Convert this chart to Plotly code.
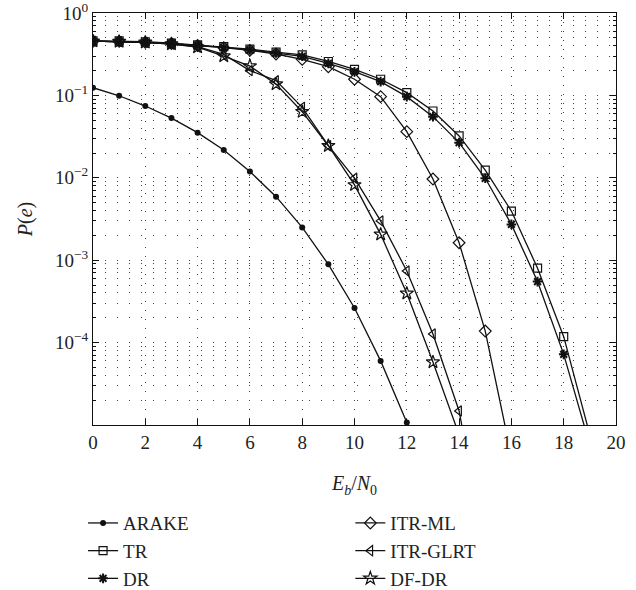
import plotly.graph_objects as go

x_arake = list(range(0, 13))
p_arake = [0.124, 0.099, 0.0743, 0.053, 0.0353, 0.0218, 0.0119, 0.0059, 0.0025, 0.00089, 0.000263, 6.0e-5, 1.07e-5]

x_tr = list(range(0, 20))
p_tr = [0.46, 0.458, 0.448, 0.43, 0.41, 0.39, 0.365, 0.335, 0.31, 0.258, 0.207, 0.157, 0.108, 0.0647, 0.0322, 0.0124, 0.00395, 0.0008, 0.000118, 7.6e-6]

x_dr = list(range(0, 20))
p_dr = [0.455, 0.452, 0.44, 0.425, 0.405, 0.383, 0.357, 0.327, 0.298, 0.245, 0.194, 0.147, 0.0966, 0.0552, 0.0267, 0.00986, 0.00272, 0.00055, 7.2e-5, 5.7e-6]

x_ml = list(range(0, 17))
p_ml = [0.455, 0.452, 0.44, 0.425, 0.403, 0.38, 0.352, 0.318, 0.274, 0.223, 0.157, 0.0966, 0.0363, 0.00967, 0.00163, 0.000138, 4.2e-6]

x_glrt = list(range(0, 16))
p_glrt = [0.455, 0.45, 0.44, 0.42, 0.39, 0.315, 0.2, 0.151, 0.0717, 0.0245, 0.0099, 0.003, 0.00074, 0.000127, 1.48e-5, 3e-7]

x_dfdr = list(range(0, 15))
p_dfdr = [0.455, 0.45, 0.44, 0.42, 0.385, 0.3, 0.227, 0.137, 0.0634, 0.0245, 0.0082, 0.00206, 0.000396, 5.8e-5, 7.6e-6]

x_ticks = list(range(0, 21, 2))
y_tickvals = [1e-4, 1e-3, 1e-2, 1e-1, 1]
y_ticktext = ["10<sup>−4</sup>", "10<sup>−3</sup>", "10<sup>−2</sup>", "10<sup>−1</sup>", "10<sup>0</sup>"]
y_minor = [m * 10 ** e for e in range(-5, 0) for m in range(2, 10)]

FONT = "Liberation Serif"
INK = "#111111"
GRID = "#444444"

series = [
    ("ARAKE", x_arake, p_arake, dict(symbol="circle", size=6, color=INK), "legend"),
    ("TR", x_tr, p_tr, dict(symbol="square-open", size=8, color=INK, line=dict(width=1.2, color=INK)), "legend"),
    ("DR", x_dr, p_dr, dict(symbol="asterisk-open", size=8, color=INK, line=dict(width=2, color=INK)), "legend"),
    ("ITR-ML", x_ml, p_ml, dict(symbol="diamond-open", size=9, color=INK, line=dict(width=1.2, color=INK)), "legend2"),
    ("ITR-GLRT", x_glrt, p_glrt, dict(symbol="triangle-left-open", size=9, color=INK, line=dict(width=1.2, color=INK)), "legend2"),
    ("DF-DR", x_dfdr, p_dfdr, dict(symbol="star-open", size=10, color=INK, line=dict(width=1.2, color=INK)), "legend2"),
]

fig = go.Figure()
for name, xs, ys, mk, lg in series:
    fig.add_trace(go.Scatter(x=xs, y=ys, name=name, mode="lines+markers",
                             line=dict(color=INK, width=1.3), marker=mk, legend=lg,
                             cliponaxis=True))

axis_common = dict(showline=True, linecolor=INK, linewidth=1.3, mirror="ticks",
                   ticks="inside", tickcolor=INK, zeroline=False, automargin=False,
                   ticklabeloverflow="allow",
                   tickfont=dict(family=FONT, size=19, color="#222"))

fig.update_xaxes(range=[0, 20], tickvals=x_ticks, ticklen=6,
                 showgrid=True, gridcolor=GRID, griddash="1px,8px", gridwidth=1,
                 title=dict(text="<i>E</i><sub><i>b</i></sub>/<i>N</i><sub>0</sub>",
                            font=dict(family=FONT, size=20, color="#222"), standoff=24),
                 **axis_common)
fig.update_yaxes(type="log", range=[-5, 0], tickvals=y_tickvals, ticktext=y_ticktext, ticklen=6,
                 showgrid=True, gridcolor=GRID, griddash="1px,11px", gridwidth=1,
                 minor=dict(tickvals=y_minor, ticks="inside", ticklen=3, tickcolor=INK,
                            showgrid=True, gridcolor=GRID, griddash="1px,11px", gridwidth=1),
                 title=dict(text="<i>P</i>(<i>e</i>)", font=dict(family=FONT, size=20, color="#222"), standoff=16),
                 **axis_common)

legend_common = dict(font=dict(family=FONT, size=19, color="#222"), bgcolor="rgba(0,0,0,0)",
                     borderwidth=0, itemwidth=30, tracegroupgap=0,
                     xanchor="left", yanchor="top", orientation="v")
fig.update_layout(
    width=636, height=590,
    margin=dict(l=93, r=20, t=13, b=165, autoexpand=False),
    plot_bgcolor="white", paper_bgcolor="white",
    showlegend=True,
    legend=dict(x=-0.019, y=-0.192, **legend_common),
    legend2=dict(x=0.492, y=-0.192, **legend_common),
)

fig.write_html("out.html", config={"displayModeBar": False},
               post_script="document.body.style.margin='0px';")
